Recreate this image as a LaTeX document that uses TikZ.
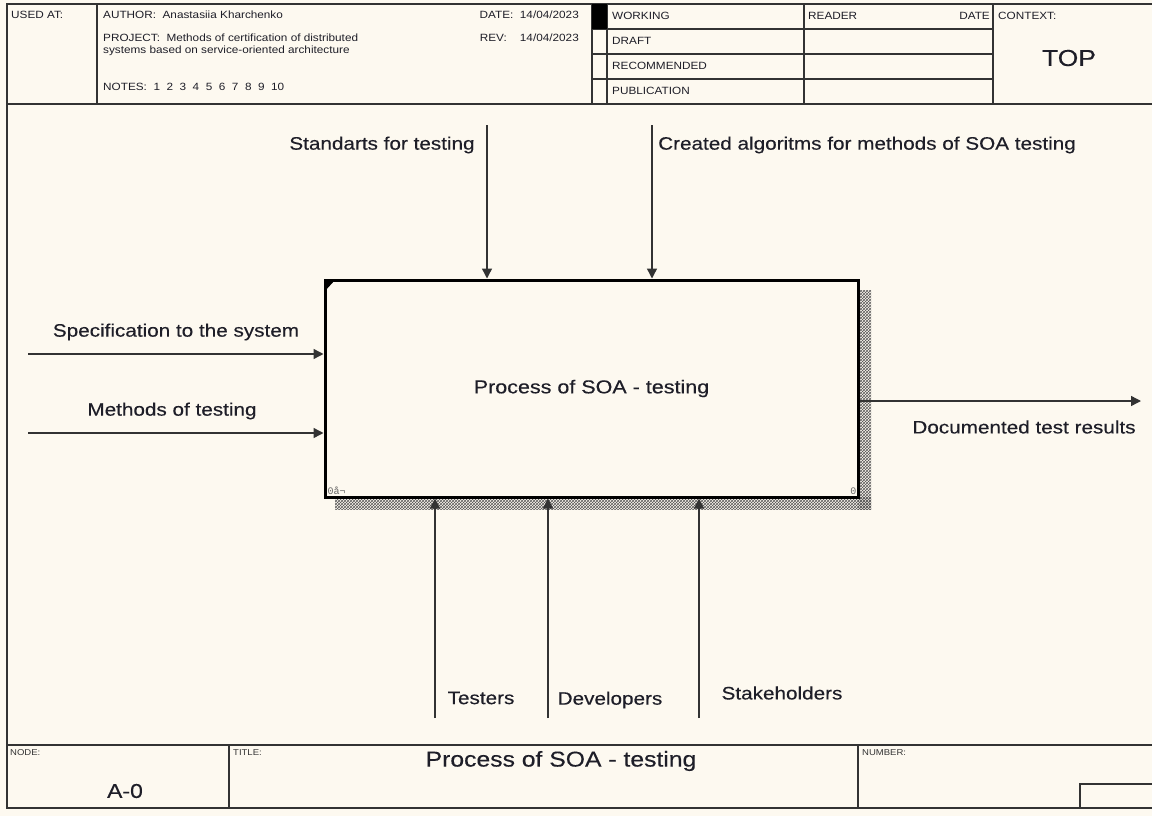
\documentclass[tikz,border=0pt]{standalone}
\usepackage{fontspec}
\setmainfont{Liberation Sans}
\newfontfamily\lblfont[FakeStretch=1.15,FakeBold=0.3]{Liberation Sans}
\newfontfamily\formfont[FakeStretch=1.12]{Liberation Sans}
\newfontfamily\codefont{Liberation Mono}
\usetikzlibrary{arrows.meta,patterns}
\definecolor{paper}{HTML}{FDF9F0}
\definecolor{ink}{HTML}{1E1E28}
\definecolor{wire}{HTML}{333333}
\tikzset{
  frame/.style={draw=wire, line width=1.3pt},
  formtext/.style={inner sep=0pt, anchor=west, text=ink, font=\formfont\fontsize{10.5}{12}\selectfont},
  tinytext/.style={inner sep=0pt, anchor=north west, text=wire, font=\formfont\fontsize{8.5}{10}\selectfont},
  label/.style={inner sep=0pt, text=ink, font=\lblfont\fontsize{18}{21}\selectfont},
  flow/.style={draw=wire, line width=1.4pt, -{Triangle[length=10pt,width=10pt]}},
  activity/.style={draw=black, line width=3pt, minimum width=533pt, minimum height=217pt,
    inner sep=0pt, text=ink, font=\lblfont\fontsize{18.7}{22}\selectfont},
}
\begin{document}
\begin{tikzpicture}[x=1pt,y=-1pt]
% page
\fill[paper] (0,0) rectangle (1152,816);
\useasboundingbox (0,0) rectangle (1152,816);

% ---- outer form frame ----
\draw[frame] (1160,4) -- (7,4) -- (7,808) -- (1160,808);
\draw[frame] (7,104) -- (1160,104);
\draw[frame] (7,745) -- (1160,745);

% ---- header cells ----
\draw[frame] (97,4) -- (97,104);
\draw[frame] (592,4) -- (592,104);
\draw[frame] (607,4) -- (607,104);
\draw[frame] (804,4) -- (804,104);
\draw[frame] (993,4) -- (993,104);
\foreach \yy in {29,54,79} \draw[frame] (592,\yy) -- (993,\yy);
\fill[black] (592,4) rectangle (607,29);

\node[formtext] (usedat) at (11,15) {USED AT:};
\node[formtext] (author) at (103,15) {AUTHOR:\ \ Anastasiia Kharchenko};
\node[formtext] (project) at (103,38) {PROJECT:\ \ Methods of certification of distributed};
\node[formtext] (project2) at (103,51) {systems based on service-oriented architecture};
\node[formtext] (notes) at (103,87) {NOTES:\ \ 1\ \ 2\ \ 3\ \ 4\ \ 5\ \ 6\ \ 7\ \ 8\ \ 9\ \ 10};
\node[formtext, anchor=east] (date) at (579,15) {DATE:\ \ 14/04/2023};
\node[formtext, anchor=east] (rev) at (579,38) {REV:\ \ \ \ 14/04/2023};
\node[formtext] (working) at (612,16) {WORKING};
\node[formtext] (draft) at (612,41) {DRAFT};
\node[formtext] (recommended) at (612,66) {RECOMMENDED};
\node[formtext] (publication) at (612,91) {PUBLICATION};
\node[formtext] (reader) at (808,16) {READER};
\node[formtext, anchor=east] (rdate) at (990,16) {DATE};
\node[formtext] (context) at (998,16) {CONTEXT:};
\node[label, font=\lblfont\fontsize{23}{26}\selectfont] (top) at (1069,58) {TOP};

% ---- activity box with hatched shadow ----
\fill[pattern=crosshatch, pattern color=gray!70!black] (858,290) rectangle (871,509);
\fill[pattern=crosshatch, pattern color=gray!70!black] (335,497) rectangle (871,509);
\node[activity, fill=paper] (proc) at (591.5,388.5) {Process of SOA - testing};
\fill[black] ([shift={(1,1)}]proc.north west) -- ++(11,0) -- ++(-11,12) -- cycle;
\node[inner sep=0pt, anchor=south west, text=gray!80!black, font=\codefont\fontsize{10}{11}\selectfont]
  (boxnum) at ([shift={(4,-4)}]proc.south west) {0å¬};
\node[inner sep=0pt, anchor=south east, text=gray!80!black, font=\codefont\fontsize{10}{11}\selectfont]
  (boxnode) at ([shift={(-3,-4)}]proc.south east) {0};

% ---- controls ----
\coordinate (c1) at (487,125);
\coordinate (c2) at (652,125);
\draw[flow] (c1) -- (c1 |- proc.north);
\draw[flow] (c2) -- (c2 |- proc.north);
\node[label] (lc1) at (382,145) {Standarts for testing};
\node[label, anchor=west] (lc2) at (658,145) {Created algoritms for methods of SOA testing};

% ---- inputs ----
\coordinate (i1) at (28,354);
\coordinate (i2) at (28,433);
\draw[flow] (i1) -- (i1 -| proc.west);
\draw[flow] (i2) -- (i2 -| proc.west);
\node[label] (li1) at (176,332) {Specification to the system};
\node[label] (li2) at (172,411) {Methods of testing};

% ---- output ----
\coordinate (o1) at (1141,401);
\draw[flow] (o1 -| proc.east) -- (o1);
\node[label] (lo1) at (1024,427) {Documented test results};

% ---- mechanisms ----
\coordinate (m1) at (435,718);
\coordinate (m2) at (548,718);
\coordinate (m3) at (699,718);
\draw[flow] (m1) -- (m1 |- proc.south);
\draw[flow] (m2) -- (m2 |- proc.south);
\draw[flow] (m3) -- (m3 |- proc.south);
\node[label] (lm1) at (481,698) {Testers};
\node[label] (lm2) at (610,700) {Developers};
\node[label] (lm3) at (782,693) {Stakeholders};

% ---- footer ----
\draw[frame] (229,745) -- (229,808);
\draw[frame] (858,745) -- (858,808);
\draw[frame] (1160,784) -- (1080,784) -- (1080,808);
\node[tinytext] (nodelbl) at (10,749) {NODE:};
\node[label, font=\lblfont\fontsize{20}{24}\selectfont] (nodeid) at (125,791) {A-0};
\node[tinytext] (titlelbl) at (233,749) {TITLE:};
\node[label, font=\lblfont\fontsize{21.5}{25}\selectfont] (title) at (561,761) {Process of SOA - testing};
\node[tinytext] (numberlbl) at (862,749) {NUMBER:};
\end{tikzpicture}
\end{document}
